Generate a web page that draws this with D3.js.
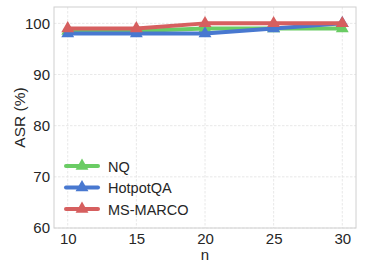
<!DOCTYPE html>
<html>
<head>
<meta charset="utf-8">
<script src="https://cdn.jsdelivr.net/npm/d3@7"></script>
<style>
  body { margin: 0; background: #fff; }
  text { font-family: "Liberation Sans", Arial, sans-serif; fill: #262626; }
</style>
</head>
<body>
<div id="chart"></div>
<script>
var svgWidth = 365;
var svgHeight = 272;

var margin = { top: 7, right: 9, bottom: 44, left: 54 };

var width = svgWidth - margin.left - margin.right;
var height = svgHeight - margin.top - margin.bottom;

// data
var nValues = [10, 15, 20, 25, 30];
var nqASR = [98.5, 98.5, 99, 99, 99];
var hotpotASR = [98, 98, 98, 99, 100];
var msmarcoASR = [99, 99, 100, 100, 100];
var yTicks = [60, 70, 80, 90, 100];

var seriesNames = ["NQ", "HotpotQA", "MS-MARCO"];
var seriesValues = [nqASR, hotpotASR, msmarcoASR];
var colors = ["#6acc64", "#4878d0", "#d65f5f"];

var svg = d3.select("#chart")
  .append("svg")
  .attr("width", svgWidth)
  .attr("height", svgHeight);

var chartGroup = svg.append("g")
  .attr("transform", `translate(${margin.left}, ${margin.top})`);

var xScale = d3.scaleLinear().domain([9, 31]).range([0, width]);
var yScale = d3.scaleLinear().domain([60, 103.2]).range([height, 0]);

// grid
chartGroup.append("g")
  .selectAll("line.vgrid")
  .data(nValues)
  .enter()
  .append("line")
  .attr("x1", d => xScale(d)).attr("x2", d => xScale(d))
  .attr("y1", 0).attr("y2", height)
  .attr("stroke", "#e2e2e2").attr("stroke-width", 0.8)
  .attr("stroke-dasharray", "2.5,1.5");

chartGroup.append("g")
  .selectAll("line.hgrid")
  .data(yTicks)
  .enter()
  .append("line")
  .attr("x1", 0).attr("x2", width)
  .attr("y1", d => yScale(d)).attr("y2", d => yScale(d))
  .attr("stroke", "#e2e2e2").attr("stroke-width", 0.8)
  .attr("stroke-dasharray", "2.5,1.5");

// frame
chartGroup.append("rect")
  .attr("width", width).attr("height", height)
  .attr("fill", "none").attr("stroke", "#d0d0d0").attr("stroke-width", 1);

// axes
var bottomAxis = d3.axisBottom(xScale).tickValues(nValues).tickSize(0).tickPadding(5);
var leftAxis = d3.axisLeft(yScale).tickValues(yTicks).tickSize(0).tickPadding(4);

var xAxis = chartGroup.append("g")
  .attr("transform", `translate(0, ${height})`)
  .call(bottomAxis);
var yAxis = chartGroup.append("g").call(leftAxis);

[xAxis, yAxis].forEach(function(ax) {
  ax.select(".domain").remove();
  ax.selectAll("text")
    .style("font-family", "'Liberation Sans', Arial, sans-serif")
    .style("font-size", "15px")
    .attr("fill", "#262626");
});

// lines and markers
var line = d3.line()
  .x((d, i) => xScale(nValues[i]))
  .y(d => yScale(d));

var triangle = d3.symbol().type(d3.symbolTriangle).size(72);

seriesValues.forEach(function(vals, s) {
  chartGroup.append("path")
    .datum(vals)
    .attr("d", line)
    .attr("fill", "none")
    .attr("stroke", colors[s])
    .attr("stroke-width", 4)
    .attr("stroke-linejoin", "round");

  chartGroup.append("g")
    .selectAll("path")
    .data(vals)
    .enter()
    .append("path")
    .attr("d", triangle)
    .attr("transform", (d, i) => `translate(${xScale(nValues[i])}, ${yScale(d)})`)
    .attr("fill", colors[s]);
});

// legend
var legend = chartGroup.append("g")
  .attr("transform", "translate(12, 159)");

seriesNames.forEach(function(name, i) {
  var row = legend.append("g").attr("transform", `translate(0, ${i * 21.5})`);
  row.append("line")
    .attr("x1", 0).attr("x2", 32)
    .attr("y1", 0).attr("y2", 0)
    .attr("stroke", colors[i]).attr("stroke-width", 4)
    .attr("stroke-linecap", "round");
  row.append("path")
    .attr("d", triangle)
    .attr("transform", "translate(16, 0)")
    .attr("fill", colors[i]);
  row.append("text")
    .attr("x", 42).attr("y", 5.5)
    .style("font-size", "14.5px")
    .text(name);
});

// axis labels
svg.append("text")
  .attr("x", margin.left + width / 2)
  .attr("y", 260)
  .attr("text-anchor", "middle")
  .style("font-size", "15px")
  .text("n");

svg.append("text")
  .attr("transform", `translate(25, ${margin.top + height / 2}) rotate(-90)`)
  .attr("text-anchor", "middle")
  .style("font-size", "15.5px")
  .text("ASR (%)");
</script>
</body>
</html>
